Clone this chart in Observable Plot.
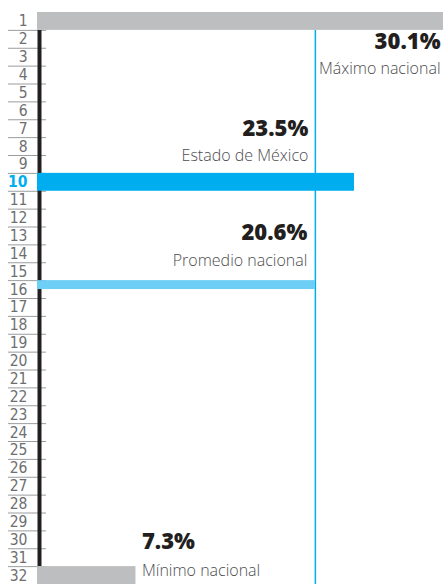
<!DOCTYPE html>
<html>
<head>
<meta charset="utf-8">
<script src="https://cdn.jsdelivr.net/npm/d3@7"></script>
<script src="https://cdn.jsdelivr.net/npm/@observablehq/plot@0.6"></script>
<style>
  html, body { margin: 0; padding: 0; background: #fff; }
  #chart svg { display: block; }
</style>
</head>
<body>
<div id="chart"></div>
<script>
// Data
const ranks = d3.range(1, 33);            // state ranking positions 1..32
const highlightRank = 10;                  // Estado de México
const barRanks = [1, 10, 16, 32];
const barValues = [30.1, 23.5, 20.6, 7.3];
const barLabels = ["Máximo nacional", "Estado de México", "Promedio nacional", "Mínimo nacional"];
const barKinds = ["max", "edomex", "promedio", "min"];
const promedio = 20.6;

const bars = barRanks.map((r, i) => ({rank: r, value: barValues[i], label: barLabels[i], kind: barKinds[i]}));

const colors = {max: "#bcbec0", min: "#bcbec0", edomex: "#00aeef", promedio: "#6dcff6"};

const W = 443, H = 584, mL = 37, mT = 12;
const k = (W - mL) / d3.max(barValues); // px per unit (for tick underline extents)

// annotation layout (pixel offsets from bar row center)
const layout = {
  max:      {x: d => d.value,  dx: -3, anchor: "end",   dyNum: 20.3, dyLab: 47.3},
  edomex:   {x: () => promedio, dx: -7, anchor: "end",  dyNum: -53.5, dyLab: -26.6},
  promedio: {x: () => promedio, dx: -8, anchor: "end",  dyNum: -56.8, dyLab: -28.9},
  min:      {x: d => d.value,  dx: 6,  anchor: "start", dyNum: -33.8, dyLab: -4.9}
};

const font = "'Open Sans', 'Noto Sans', sans-serif";
const tickFont = "'DejaVu Sans Condensed', 'DejaVu Sans', sans-serif";

const annotationMarks = bars.flatMap(d => {
  const L = layout[d.kind];
  return [
    Plot.text([d], {x: L.x, y: "rank", text: dd => dd.value.toFixed(1) + "%", textAnchor: L.anchor,
      dx: L.dx, dy: L.dyNum, fontSize: 22, fontWeight: 800, fill: "#231f20", lineAnchor: "middle"}),
    Plot.text([d], {x: L.x, y: "rank", text: "label", textAnchor: L.anchor,
      dx: L.dx, dy: L.dyLab, fontSize: 16, fontWeight: 300, fill: "#4d4d4f", lineAnchor: "middle"})
  ];
});

const chart = Plot.plot({
  width: W,
  height: H,
  marginLeft: mL,
  marginRight: 0,
  marginTop: mT,
  marginBottom: 0,
  style: {fontFamily: font, background: "#fff"},
  x: {domain: [0, d3.max(barValues)], axis: null},
  y: {domain: [0.5, 32.5], reverse: true, axis: null},
  marks: [
    // tick underlines
    Plot.ruleY(ranks, {y: r => r + 0.5, x1: -29 / k, x2: 9 / k, stroke: "#9a9c9e", strokeWidth: 1}),
    // black axis line
    Plot.ruleX([0], {y1: 1.5, y2: 31.5, stroke: "#231f20", strokeWidth: 4, dx: 2}),
    // promedio vertical line
    Plot.ruleX([promedio], {y1: 1.5, y2: 32.5, stroke: "#00aeef", strokeWidth: 1.5}),
    // bars
    Plot.rectX(bars, {
      x1: 0, x2: "value",
      y1: d => d.rank - 0.5,
      y2: d => d.kind === "promedio" ? d.rank : d.rank + 0.5,
      fill: d => colors[d.kind]
    }),
    // rank labels
    Plot.text(ranks.filter(r => r !== highlightRank), {x: 0, y: r => r, text: r => String(r),
      textAnchor: "end", dx: -10, fontSize: 15.5, fontFamily: tickFont, fill: "#6d6e70", lineAnchor: "middle"}),
    Plot.text([highlightRank], {x: 0, y: r => r, text: r => String(r),
      textAnchor: "end", dx: -10, fontSize: 15.5, fontFamily: tickFont, fontWeight: "bold", fill: "#00aeef", lineAnchor: "middle"}),
    ...annotationMarks
  ]
});

document.getElementById("chart").appendChild(chart);
</script>
</body>
</html>
